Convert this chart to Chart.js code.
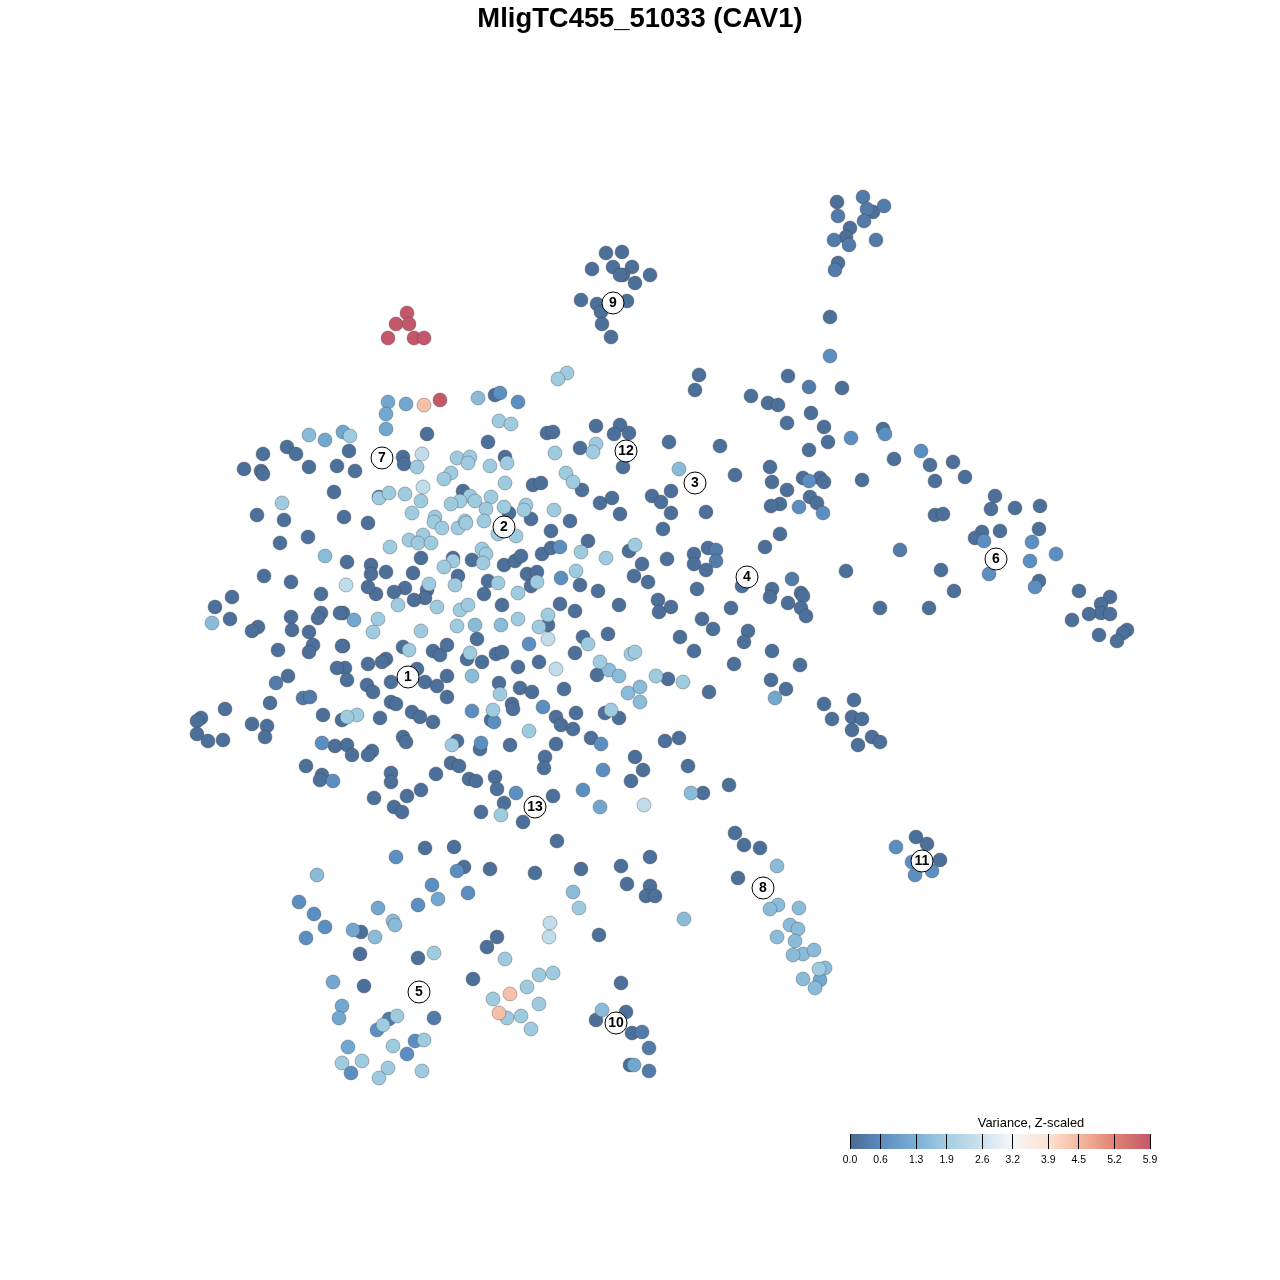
<!DOCTYPE html>
<html>
<head>
<meta charset="utf-8">
<title>MligTC455_51033 (CAV1)</title>
<script src="https://cdn.jsdelivr.net/npm/chart.js@4"></script>
<style>
  body { margin: 0; background: #fff; }
  #wrap { position: relative; width: 1280px; height: 1280px; }
  #tsne { position: absolute; left: 0; top: 0; }
  #colorbar { position: absolute; left: 830px; top: 1113px; }
</style>
</head>
<body>
<div id="wrap">
  <canvas id="tsne" width="1280" height="1280"></canvas>
  <canvas id="colorbar" width="402" height="62"></canvas>
</div>
<script>
const chartTitle = "MligTC455_51033 (CAV1)";
const legendTitle = "Variance, Z-scaled";

// colour bar
const legendTicks = [0.0, 0.6, 1.3, 1.9, 2.6, 3.2, 3.9, 4.5, 5.2, 5.9];
const legendColors = ["#4a6a92", "#5a8cbf", "#79b0d5", "#a2cde2", "#cde2ee", "#f5f6f8", "#fde2d3", "#f5b99f", "#e08373", "#c4586a"];

// embedding positions per variance level, drawn low to high
const level0 = [[837,202],[850,228],[873,212],[846,237],[838,263],[830,317],
  [606,253],[622,252],[592,269],[613,267],[632,267],[623,275],[620,275],[635,283],[650,275],[581,300],[597,304],[627,301],[601,312],[602,324],[611,337],
  [427,434],[495,395],[547,433],[553,432],[596,426],[620,425],[614,434],[629,433],[488,442],[580,448],[623,467],
  [349,451],[403,457],[404,464],[355,471],[505,457],[582,490],[533,485],[541,483],[379,497],[463,491],[509,513],[531,519],[600,503],[612,498],[620,514],[570,521],[551,531],
  [368,523],[344,517],[421,558],[347,562],[371,565],[371,574],[386,572],[413,573],[453,558],[472,560],[504,565],[515,561],[521,556],[542,554],[551,548],[588,541],[629,551],[642,564],[634,576],
  [458,576],[427,590],[425,598],[414,600],[405,588],[394,592],[376,594],[368,587],[488,581],[484,594],[502,605],[527,574],[537,572],[531,586],[580,585],[598,591],[619,605],[560,604],[575,611],
  [343,613],[343,646],[548,625],[477,639],[583,637],[575,653],[608,634],[403,647],[433,651],[440,655],[447,645],[467,659],[482,662],[496,654],[502,652],[518,667],[539,662],[386,659],[382,662],[368,664],[345,668],
  [347,680],[367,685],[373,692],[391,682],[417,669],[425,682],[437,686],[447,676],[447,697],[499,683],[520,688],[532,692],[564,689],[597,675],
  [391,702],[396,704],[412,712],[420,717],[433,722],[380,718],[342,720],[491,720],[512,704],[513,709],[556,717],[561,725],[573,729],[576,713],[605,713],[619,718],
  [591,738],[556,744],[510,745],[480,749],[457,741],[403,737],[406,742],[335,746],[347,745],[352,755],[372,751],[368,755],[545,757],[544,768],[635,757],[643,770],[631,781],
  [391,773],[391,782],[436,774],[451,763],[459,766],[469,779],[476,781],[495,777],[497,789],[421,790],[407,796],[374,798],[394,807],[402,812],[504,803],[553,796],[481,812],[523,822],[557,841],[425,848],[454,847],
  [263,454],[287,447],[296,454],[244,469],[261,471],[263,474],[309,467],[337,466],[334,492],[257,515],[284,520],[280,543],[308,537],[264,576],[291,582],[321,594],[232,597],[215,607],[230,619],[258,627],[252,631],[291,617],[321,613],[318,618],[340,613],[292,630],[309,632],[313,645],[309,652],[278,650],[342,646],[337,668],[288,676],[270,703],[323,715],[225,709],[201,718],[197,721],[197,734],[208,741],[223,740],[252,724],[267,726],[265,737],[306,766],[322,775],[320,780],
  [699,375],[695,390],[788,376],[842,388],[751,396],[768,403],[778,405],[811,413],[787,423],[824,427],[883,429],[828,442],[809,450],[894,459],[669,442],[720,446],[735,475],[770,467],[772,482],[787,490],[803,478],[820,478],[824,482],[862,480],[810,497],[817,503],[780,504],[771,506],[652,496],[671,491],[661,502],[671,513],[706,512],[663,529],[780,534],[765,547],[708,548],[694,554],[694,564],[706,570],[667,559],[648,582],[697,589],[742,586],[772,589],[770,597],[801,593],[803,596],[788,603],[801,608],[806,616],[846,571],[880,608],[658,600],[659,612],[671,607],[731,608],[702,619],[713,629],[748,631],[744,642],[680,637],
  [694,651],[772,651],[800,665],[734,664],[771,680],[786,689],[709,692],[668,679],[824,704],[854,700],[832,719],[852,717],[862,719],[852,730],[872,737],[880,742],[858,745],[665,741],[679,738],[688,766],[729,785],[703,793],
  [930,465],[953,462],[935,481],[965,477],[995,496],[991,509],[1015,508],[1040,506],[935,515],[943,514],[982,532],[975,538],[1000,531],[1039,529],[941,570],[1039,581],[954,591],[929,608],[1079,591],[1110,597],[1101,604],[1101,613],[1110,614],[1089,614],[1072,620],[1099,635],[1127,630],[1123,633],[1117,641],
  [464,867],[490,869],[535,873],[361,932],[360,954],[418,958],[497,937],[487,947],[364,986],[473,979],[581,869],[621,866],[650,857],[627,884],[650,886],[646,896],[655,896],[599,935],[621,983],[626,1012],[596,1020],[632,1033],[630,1065],
  [735,833],[744,845],[760,848],[738,878],[916,837],[927,844],[940,860]];
const level1 = [[838,216],[863,197],[867,209],[884,206],[864,221],[834,240],[849,245],[876,240],[835,270],[809,387],[716,550],[716,561],[792,579],
  [276,683],[303,698],[310,697],[900,550],[434,1018],[389,1019],[649,1048],[649,1071],[642,1032]];
const level2 = [[500,393],[518,402],[560,547],[561,578],[529,644],[472,711],[494,722],[543,707],[481,743],[603,770],[516,793],[583,790],[396,857],[322,743],[333,781],
  [851,438],[885,434],[809,481],[823,513],[799,507],[921,451],[984,541],[1032,542],[1056,554],[1030,561],[989,574],[1035,587],
  [299,902],[314,914],[325,927],[306,938],[457,871],[432,885],[418,905],[468,893],[377,1030],[415,1041],[407,1054],[351,1073],[896,847],[912,862],[915,875],[932,871],[830,356],[601,744]];
const level3 = [[388,402],[406,404],[386,414],[386,429],[343,432],[325,440],[354,620],[600,807],[775,698],[378,908],[353,930],[438,899],[333,982],[342,1006],[339,1018],[348,1047],[634,1065],[820,980]];
const level4 = [[478,398],[472,676],[475,625],[501,625],[609,670],[619,676],[628,693],[640,687],[640,702],[309,435],[325,556],[212,623],[679,469],[691,793],[317,875],[393,921],[395,925],[375,937],
  [573,892],[684,919],[602,1010],[777,866],[778,905],[770,909],[799,908],[790,925],[798,929],[777,937],[795,941],[803,954],[793,955],[814,950],[825,968],[803,979],[815,988]];
const level5 = [[567,373],[558,379],[499,421],[511,424],[596,444],[593,452],[555,453],[350,436],[417,467],[457,458],[470,457],[468,463],[490,466],[507,463],[451,473],[444,479],[566,473],[573,482],[505,483],
  [379,498],[389,493],[405,494],[421,501],[470,496],[460,501],[451,504],[475,501],[491,497],[486,509],[504,507],[526,505],[524,510],[554,510],[412,513],[435,517],[434,522],[442,528],[458,528],[465,521],[466,523],[484,521],[498,534],[516,536],
  [390,547],[409,540],[423,535],[418,543],[431,543],[453,561],[444,567],[482,549],[486,554],[483,563],[581,552],[606,558],[635,545],[455,585],[429,584],[498,583],[518,593],[537,582],[576,571],
  [398,605],[437,607],[460,610],[468,605],[378,619],[373,632],[421,631],[457,626],[518,619],[539,627],[548,615],[588,644],[631,654],[635,652],[409,650],[470,653],[600,662],[500,694],
  [357,715],[347,717],[493,710],[611,710],[529,731],[452,745],[501,815],[656,676],[683,682],[282,503],[434,953],[505,959],[397,1016],[383,1025],[393,1046],[424,1040],[342,1063],[362,1061],[388,1068],[379,1078],[422,1071],
  [493,999],[527,987],[539,975],[553,973],[539,1004],[507,1018],[521,1016],[531,1029],[579,908],[819,969]];
const level6 = [[423,487],[548,639],[556,669],[346,585],[644,805],[550,923],[549,937],[422,454]];
const level7 = [[424,405],[510,994],[499,1013]];
const level8 = [[440,400],[407,313],[396,324],[409,324],[388,338],[414,338],[424,338]];
const levels = [level0, level1, level2, level3, level4, level5, level6, level7, level8];
const levelValues = [0.1, 0.3, 0.65, 1.15, 1.55, 1.85, 2.4, 4.4, 5.9];

// numbered cluster centres
const clusterIds = ["1","2","3","4","5","6","7","8","9","10","11","12","13"];
const clusterPos = [[408,677],[504,527],[695,483],[747,577],[419,992],[996,559],[382,458],[763,888],[613,303],[616,1023],[922,861],[626,451],[535,807]];

function hexRgb(h) {
  return [1, 3, 5].map(i => parseInt(h.slice(i, i + 2), 16));
}

// value -> colour, same ramp as the colour bar
function rampColor(v) {
  let i = 0;
  while (i < legendTicks.length - 2 && v > legendTicks[i + 1]) i++;
  const t = (v - legendTicks[i]) / (legendTicks[i + 1] - legendTicks[i]);
  const a = hexRgb(legendColors[i]), b = hexRgb(legendColors[i + 1]);
  const c = a.map((x, k) => Math.round(x + (b[k] - x) * t));
  return `rgb(${c[0]}, ${c[1]}, ${c[2]})`;
}

const clusterText = {
  id: 'clusterText',
  afterDatasetsDraw(chart) {
    const meta = chart.getDatasetMeta(levels.length);
    const c = chart.ctx;
    c.save();
    c.font = 'bold 14px "Liberation Sans"';
    c.fillStyle = '#000';
    c.textAlign = 'center';
    c.textBaseline = 'middle';
    meta.data.forEach((pt, i) => c.fillText(clusterIds[i], pt.x, pt.y + 0.5));
    c.restore();
  }
};

// the legend title sits off centre from the bar, so it is placed by hand
const legendCaption = {
  id: 'legendCaption',
  afterDraw(chart) {
    const c = chart.ctx;
    c.save();
    c.font = '12.9px "Liberation Sans"';
    c.fillStyle = '#000';
    c.textAlign = 'center';
    c.textBaseline = 'middle';
    c.fillText(legendTitle, chart.chartArea.left + 181, chart.chartArea.top - 11);
    c.restore();
  }
};

// lower order draws later, so the high variance levels end up on top
const datasets = levels.map((pts, i) => ({
  label: 'variance ' + levelValues[i],
  data: pts.map(p => ({ x: p[0], y: p[1] })),
  order: levels.length - i,
  pointRadius: 7,
  backgroundColor: rampColor(levelValues[i]),
  borderColor: 'rgba(60, 60, 60, 0.35)',
  borderWidth: 1
}));
datasets.push({
  label: 'clusters',
  data: clusterPos.map(p => ({ x: p[0], y: p[1] })),
  order: 0,
  pointRadius: 11,
  backgroundColor: 'rgba(255, 255, 255, 0.95)',
  borderColor: '#000',
  borderWidth: 1
});

new Chart(document.getElementById('tsne'), {
  type: 'scatter',
  data: { datasets: datasets },
  plugins: [clusterText],
  options: {
    responsive: false,
    animation: false,
    layout: { padding: 0, autoPadding: false },
    scales: {
      // plot area starts under the title, 40px down
      x: { type: 'linear', display: false, min: 0, max: 1280 },
      y: { type: 'linear', display: false, min: 40, max: 1280, reverse: true }
    },
    plugins: {
      legend: { display: false },
      tooltip: { enabled: false },
      title: {
        display: true,
        text: chartTitle,
        color: '#000',
        font: { family: '"Liberation Sans"', size: 27.4, weight: 'bold' },
        padding: { top: 3, bottom: 4.1 }
      }
    }
  }
});

new Chart(document.getElementById('colorbar'), {
  type: 'bar',
  data: {
    labels: [''],
    datasets: [{
      data: [[legendTicks[0], legendTicks[legendTicks.length - 1]]],
      barPercentage: 1,
      categoryPercentage: 1,
      backgroundColor(ctx) {
        const area = ctx.chart.chartArea;
        if (!area) return legendColors[0];
        const g = ctx.chart.ctx.createLinearGradient(area.left, 0, area.right, 0);
        legendTicks.forEach((t, i) => g.addColorStop(t / 5.9, legendColors[i]));
        return g;
      }
    }]
  },
  plugins: [legendCaption],
  options: {
    indexAxis: 'y',
    responsive: false,
    animation: false,
    layout: { padding: { left: 20, right: 82, top: 21 } },
    scales: {
      x: {
        type: 'linear',
        min: 0,
        max: 5.9,
        afterBuildTicks(axis) { axis.ticks = legendTicks.map(v => ({ value: v })); },
        afterFit(axis) { axis.height = 26; },
        ticks: {
          autoSkip: false,
          maxRotation: 0,
          padding: 5,
          color: '#000',
          font: { family: '"Liberation Sans"', size: 10.4 },
          callback: v => v.toFixed(1)
        },
        grid: { color: '#000', z: 1, drawTicks: false },
        border: { display: false }
      },
      y: { display: false }
    },
    plugins: {
      legend: { display: false },
      tooltip: { enabled: false }
    }
  }
});
</script>
</body>
</html>
